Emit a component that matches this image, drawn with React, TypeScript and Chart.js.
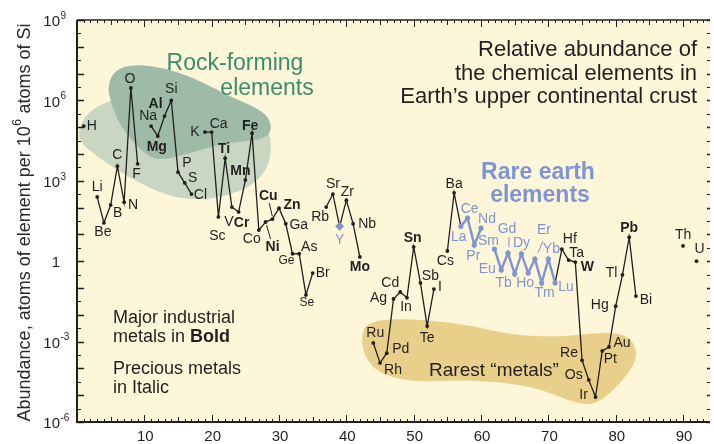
import React, { useEffect, useRef } from 'react';
import { Chart, registerables } from 'chart.js';
Chart.register(...registerables);

// ---------- DATA ----------
const elementZ = [1, 3, 4, 5, 6, 7, 8, 9, 11, 12, 13, 14, 15, 16, 17, 19, 20, 21, 22, 23, 24, 25, 26, 27, 28, 29, 30, 31, 32, 33, 34, 35, 37, 38, 39, 40, 41, 42, 44, 45, 46, 47, 48, 49, 50, 51, 52, 53, 55, 56, 57, 58, 59, 60, 62, 63, 64, 65, 66, 67, 68, 69, 70, 71, 72, 73, 74, 75, 76, 77, 78, 79, 80, 81, 82, 83, 90, 92];
const elementSymbols = ['H', 'Li', 'Be', 'B', 'C', 'N', 'O', 'F', 'Na', 'Mg', 'Al', 'Si', 'P', 'S', 'Cl', 'K', 'Ca', 'Sc', 'Ti', 'V', 'Cr', 'Mn', 'Fe', 'Co', 'Ni', 'Cu', 'Zn', 'Ga', 'Ge', 'As', 'Se', 'Br', 'Rb', 'Sr', 'Y', 'Zr', 'Nb', 'Mo', 'Ru', 'Rh', 'Pd', 'Ag', 'Cd', 'In', 'Sn', 'Sb', 'Te', 'I', 'Cs', 'Ba', 'La', 'Ce', 'Pr', 'Nd', 'Sm', 'Eu', 'Gd', 'Tb', 'Dy', 'Ho', 'Er', 'Tm', 'Yb', 'Lu', 'Hf', 'Ta', 'W', 'Re', 'Os', 'Ir', 'Pt', 'Au', 'Hg', 'Tl', 'Pb', 'Bi', 'Th', 'U'];
const abundance = [1.1e5, 250, 27, 125, 3500, 160, 2.9e6, 4300, 1.1e5, 4.7e4, 2.6e5, 1e6, 2100, 830, 320, 6.6e4, 6.6e4, 45, 7000, 105, 69, 1070, 6e4, 14.5, 29, 37, 95, 25, 1.9, 1.9, 0.055, 0.36, 105, 320, 20, 190, 25, 1.45, 8.9e-4, 1.6e-4, 3.7e-4, 0.039, 0.071, 0.043, 3.4, 0.155, 3.8e-3, 0.091, 2.4, 355, 20, 41, 4, 17, 2.8, 0.47, 2.0, 0.33, 1.9, 0.36, 1.2, 0.155, 1.2, 0.155, 2.8, 1.1, 0.93, 2.0e-4, 3.7e-5, 8.5e-6, 4.5e-4, 6.3e-4, 0.021, 0.31, 7.9, 0.05, 3.7, 1.0];

const rareEarthFirst = 57;
const rareEarthLast = 71;
const yttriumZ = 39;
const maxZ = 92;

const boldSymbols = ['Mg', 'Al', 'Ti', 'Cr', 'Mn', 'Fe', 'Ni', 'Cu', 'Zn', 'Sn', 'Mo', 'W', 'Pb'];
const smallSymbols = ['Ge', 'Se'];

const xTickLabels = [10, 20, 30, 40, 50, 60, 70, 80, 90];
const yTickValues = [1e9, 1e6, 1e3, 1, 1e-3, 1e-6];
const yTickBase = ['10', '10', '10', '1', '10', '10'];
const yTickExp = ['9', '6', '3', '', '-3', '-6'];

const titleLines = ['Relative abundance of', 'the chemical elements in', 'Earth\u2019s upper continental crust'];
const rockLines = ['Rock-forming', 'elements'];
const reeLines = ['Rare earth', 'elements'];
const noteLines = ['Major industrial', 'metals in ', 'Precious metals', 'in Italic'];
const rarestText = 'Rarest \u201cmetals\u201d';
const yTitle = ['Abundance, atoms of element per 10', '6', ' atoms of Si'];

// blob outlines in data units [atomic number, log10 abundance]
const rockOuter: [number, number][] = [[0.15, 4.9], [1.6, 5.57], [4.9, 6.01], [10.8, 6.39], [21.1, 6.01], [27.7, 5.34], [28.9, 4.52], [28.6, 3.59], [26.3, 2.84], [21.8, 2.4], [17.4, 2.28], [13.0, 2.47], [7.8, 3.1], [2.65, 3.96], [0.44, 4.45]];
const rockInner: [number, number][] = [[4.57, 6.57], [5.6, 7.13], [8.55, 7.36], [13.0, 7.21], [17.4, 6.84], [22.6, 6.16], [26.7, 5.72], [28.6, 5.34], [28.9, 4.82], [27.4, 4.52], [21.8, 4.41], [15.9, 3.96], [11.9, 3.74], [9.3, 4.15], [6.3, 5.08], [4.9, 6.01]];
const rarestBlob: [number, number][] = [[42.8, -2.31], [47.2, -2.12], [56.9, -2.31], [64.3, -2.75], [71.7, -2.83], [76.7, -2.68], [81.6, -2.68], [83.5, -3.43], [81.6, -4.32], [77.6, -5.29], [74.6, -5.37], [69.3, -4.81], [64.3, -4.54], [56.9, -4.43], [49.6, -4.51], [44.7, -4.17], [42.8, -3.57], [42.2, -2.94]];

// label offsets (pixels from the point)
const labelOffsets: Record<string, [number, number]> = {
  H: [8, 0], Li: [0, -10], Be: [-1, 9], B: [7, 8], C: [0, -11], N: [9, 3], O: [-1, -9], F: [-1, 10],
  Na: [-3, -10], Mg: [-1, 11], Al: [-9, -12], Si: [0, -11], P: [9, -9], S: [8, -5], Cl: [9, 1],
  K: [-10, 0], Ca: [7, -8], Sc: [-1, 19], Ti: [-1, -9], V: [-3, 15], Cr: [3, 11], Mn: [-5, -9], Fe: [-2, -7],
  Co: [-7, 9], Ni: [7, 25], Cu: [-4, -23], Zn: [13, -3], Ga: [13, 1], Ge: [-6, 7], As: [10, -7], Se: [1, 8],
  Br: [10, 0], Rb: [-6, 10], Sr: [0, -10], Y: [0, 14], Zr: [1, -8], Nb: [14, 0], Mo: [0, 10],
  Ru: [2, -10], Rh: [13, 7], Pd: [14, -4], Ag: [-15, -1], Cd: [-10, -9], In: [-1, 9], Sn: [-1, -9],
  Sb: [10, -7], Te: [0, 12], I: [6, -2], Cs: [-2, 10], Ba: [0, -9], La: [-2, 11], Ce: [2, -9], Pr: [-1, 11],
  Nd: [6, -9], Sm: [-6, -8], Eu: [-14, -1], Gd: [-1, -24], Tb: [-11, 9], Dy: [0, -11], Ho: [-3, 10],
  Er: [9, -29], Tm: [3, 10], Yb: [3, -10], Lu: [11, 4], Hf: [8, -10], Ta: [8, -7], W: [12, 5],
  Re: [-13, -7], Os: [-15, -5], Ir: [-12, -2], Pt: [8, 8], Au: [13, -4], Hg: [-16, -1], Tl: [-11, -2],
  Pb: [0, -9], Bi: [10, 4], Th: [0, -11], U: [3, -12],
};
const leaders: Record<string, [number, number, number, number]> = {
  Cu: [0, -3, -3, -16], Ni: [1, 3, 5, 17], Gd: [1, -6, 1, -16], Er: [3, -6, 8, -18],
};

// ---------- STYLE ----------
const FONT = '"Liberation Sans", Arial, Helvetica, sans-serif';
const INK = '#231f20';
const BLUE = '#7f95d1';
const BG = '#fdf6d9';

function smoothClosed(ctx: CanvasRenderingContext2D, pts: number[][]) {
  const n = pts.length;
  const mid = (a: number[], b: number[]) => [(a[0] + b[0]) / 2, (a[1] + b[1]) / 2];
  const m0 = mid(pts[n - 1], pts[0]);
  ctx.beginPath();
  ctx.moveTo(m0[0], m0[1]);
  for (let i = 0; i < n; i++) {
    const p = pts[i];
    const m = mid(p, pts[(i + 1) % n]);
    ctx.quadraticCurveTo(p[0], p[1], m[0], m[1]);
  }
  ctx.closePath();
}

export default function App() {
  const ref = useRef<HTMLCanvasElement>(null);
  useEffect(() => {
    const canvas = ref.current!;
    const valueByZ = new Map<number, number>();
    elementZ.forEach((z, i) => { valueByZ.set(z, abundance[i]); });

    const mainData: { x: number; y: number | null }[] = [];
    for (let z = 1; z <= maxZ; z++) {
      const v = valueByZ.get(z);
      const inner = z > rareEarthFirst && z < rareEarthLast;
      mainData.push({ x: z, y: v !== undefined && !inner ? v : null });
    }
    const reeData: { x: number; y: number | null }[] = [];
    for (let z = rareEarthFirst; z <= rareEarthLast; z++) {
      const v = valueByZ.get(z);
      reeData.push({ x: z, y: v !== undefined ? v : null });
    }

    const backgroundPlugin = {
      id: 'bgBlobs',
      beforeDatasetsDraw(chart: any) {
        const { ctx, chartArea: a, scales } = chart;
        const xs = scales.x, ys = scales.y;
        const toPx = (p: [number, number]) => [xs.getPixelForValue(p[0]), ys.getPixelForValue(Math.pow(10, p[1]))];
        ctx.save();
        ctx.fillStyle = BG;
        ctx.fillRect(a.left, a.top, a.right - a.left, a.bottom - a.top);
        ctx.beginPath();
        ctx.rect(a.left, a.top, a.right - a.left, a.bottom - a.top);
        ctx.clip();
        smoothClosed(ctx, rockOuter.map(toPx));
        ctx.fillStyle = '#c9d6c2';
        ctx.fill();
        smoothClosed(ctx, rockInner.map(toPx));
        ctx.fillStyle = '#9dbba7';
        ctx.fill();
        smoothClosed(ctx, rarestBlob.map(toPx));
        ctx.fillStyle = '#e9d08a';
        ctx.fill();

        // texts
        ctx.textBaseline = 'middle';
        ctx.fillStyle = INK;
        ctx.textAlign = 'right';
        ctx.font = `22px ${FONT}`;
        titleLines.forEach((t, i) => ctx.fillText(t, 697, 50 + i * 23.5));

        ctx.textAlign = 'center';
        ctx.fillStyle = '#3d8b6e';
        ctx.font = `23px ${FONT}`;
        ctx.fillText(rockLines[0], 235, 64);
        ctx.fillText(rockLines[1], 267, 89);

        ctx.fillStyle = BLUE;
        ctx.font = `bold 23px ${FONT}`;
        ctx.fillText(reeLines[0], 538, 173);
        ctx.fillText(reeLines[1], 540, 196);

        ctx.fillStyle = INK;
        ctx.font = `19px ${FONT}`;
        ctx.fillText(rarestText, 494, 371);

        ctx.textAlign = 'left';
        ctx.font = `18px ${FONT}`;
        ctx.fillText(noteLines[0], 113, 318);
        ctx.fillText(noteLines[1], 113, 337);
        const w = ctx.measureText(noteLines[1]).width;
        ctx.font = `bold 18px ${FONT}`;
        ctx.fillText('Bold', 113 + w, 337);
        ctx.font = `18px ${FONT}`;
        ctx.fillText(noteLines[2], 113, 369);
        ctx.fillText(noteLines[3], 113, 388);
        ctx.restore();
      },
      afterDatasetsDraw(chart: any) {
        const { ctx, chartArea: a, scales } = chart;
        const xs = scales.x, ys = scales.y;
        ctx.save();
        // element labels
        ctx.textAlign = 'center';
        ctx.textBaseline = 'middle';
        elementZ.forEach((z, i) => {
          const sym = elementSymbols[i];
          const px = xs.getPixelForValue(z);
          const py = ys.getPixelForValue(abundance[i]);
          const off = labelOffsets[sym] || [0, -10];
          const isRee = (z >= rareEarthFirst && z <= rareEarthLast) || z === yttriumZ;
          const bold = boldSymbols.includes(sym);
          const size = smallSymbols.includes(sym) ? 12 : 14;
          ctx.font = `${bold ? 'bold ' : ''}${size}px ${FONT}`;
          ctx.fillStyle = isRee ? BLUE : INK;
          ctx.fillText(sym, px + off[0], py + off[1]);
          const ld = leaders[sym];
          if (ld) {
            ctx.strokeStyle = isRee ? BLUE : INK;
            ctx.lineWidth = 1;
            ctx.beginPath();
            ctx.moveTo(px + ld[0], py + ld[1]);
            ctx.lineTo(px + ld[2], py + ld[3]);
            ctx.stroke();
          }
        });

        // frame
        ctx.strokeStyle = INK;
        ctx.lineWidth = 2;
        ctx.beginPath();
        ctx.moveTo(a.left, a.top);
        ctx.lineTo(a.left, a.bottom);
        ctx.lineTo(a.right, a.bottom);
        ctx.stroke();
        ctx.lineWidth = 1.5;
        ctx.beginPath();
        ctx.moveTo(a.left, a.top);
        ctx.lineTo(a.right, a.top);
        ctx.stroke();

        // x ticks (top and bottom, inward)
        ctx.lineWidth = 1;
        for (let z = 1; z < xs.max; z++) {
          const x = Math.round(xs.getPixelForValue(z)) + 0.5;
          const len = z % 10 === 0 ? 7 : z % 5 === 0 ? 5 : 3;
          ctx.beginPath();
          ctx.moveTo(x, a.bottom);
          ctx.lineTo(x, a.bottom - len);
          ctx.moveTo(x, a.top);
          ctx.lineTo(x, a.top + len);
          ctx.stroke();
        }
        // y ticks
        for (let e = -6; e <= 9; e += 0.5) {
          const y = Math.round(ys.getPixelForValue(Math.pow(10, e))) + 0.5;
          const len = Number.isInteger(e) ? 7 : 4;
          ctx.lineWidth = Number.isInteger(e) ? 1.5 : 1;
          ctx.beginPath();
          ctx.moveTo(a.left, y);
          ctx.lineTo(a.left + len, y);
          ctx.moveTo(a.right, y);
          ctx.lineTo(a.right - 3, y);
          ctx.stroke();
        }

        // x tick labels
        ctx.fillStyle = INK;
        ctx.textAlign = 'center';
        ctx.textBaseline = 'middle';
        ctx.font = `15px ${FONT}`;
        xTickLabels.forEach((v) => ctx.fillText(String(v), xs.getPixelForValue(v) + 1, 437));

        // y tick labels with superscripts
        yTickValues.forEach((v, i) => {
          const y = ys.getPixelForValue(v) + 2;
          ctx.font = `15px ${FONT}`;
          ctx.textAlign = 'right';
          ctx.fillText(yTickBase[i], 60, y);
          if (yTickExp[i]) {
            ctx.textAlign = 'left';
            ctx.font = `10px ${FONT}`;
            ctx.fillText(yTickExp[i].replace('-', '\u2011'), 60.5, y - 6);
          }
        });

        // y title
        ctx.translate(25, 223);
        ctx.rotate(-Math.PI / 2);
        ctx.fillStyle = '#2b2b2b';
        ctx.textAlign = 'left';
        ctx.font = `18px ${FONT}`;
        const w1 = ctx.measureText(yTitle[0]).width;
        const w3 = ctx.measureText(yTitle[2]).width;
        ctx.font = `12px ${FONT}`;
        const w2 = ctx.measureText(yTitle[1]).width;
        const start = -(w1 + w2 + w3) / 2;
        ctx.font = `18px ${FONT}`;
        ctx.fillText(yTitle[0], start, 0);
        ctx.font = `12px ${FONT}`;
        ctx.fillText(yTitle[1], start + w1 + 0.5, -7);
        ctx.font = `18px ${FONT}`;
        ctx.fillText(yTitle[2], start + w1 + w2 + 1, 0);
        ctx.restore();
      },
    };

    const chart = new Chart(canvas, {
      type: 'line',
      data: {
        datasets: [
          {
            data: reeData as any,
            borderColor: BLUE,
            borderWidth: 2.4,
            pointRadius: 2.6,
            pointBackgroundColor: BLUE,
            pointBorderWidth: 0,
            spanGaps: false,
            tension: 0,
          },
          {
            data: mainData as any,
            borderColor: INK,
            borderWidth: 1.3,
            spanGaps: false,
            tension: 0,
            pointBorderWidth: 0,
            pointRadius: (c: any) => {
              const z = c.dataIndex + 1;
              if (z === rareEarthFirst || z === rareEarthLast) return 0;
              if (z === yttriumZ) return 4.5;
              return 1.9;
            },
            pointStyle: (c: any) => (c.dataIndex + 1 === yttriumZ ? 'rectRot' : 'circle'),
            pointBackgroundColor: (c: any) => (c.dataIndex + 1 === yttriumZ ? BLUE : INK),
          },
        ],
      },
      options: {
        responsive: false,
        animation: false,
        events: [],
        layout: { padding: { top: 20, right: 0, bottom: 0, left: 0 } },
        plugins: { legend: { display: false }, tooltip: { enabled: false } },
        scales: {
          x: {
            type: 'linear', min: 0, max: 94,
            ticks: { display: false }, grid: { display: false }, border: { display: false },
            afterFit: (s: any) => { s.height = 22; },
          },
          y: {
            type: 'logarithmic', min: 1e-6, max: 1e9,
            ticks: { display: false }, grid: { display: false }, border: { display: false },
            afterFit: (s: any) => { s.width = 77; },
          },
        },
      },
      plugins: [backgroundPlugin],
    } as any);
    return () => chart.destroy();
  }, []);

  return (
    <div style={{ position: 'fixed', left: 0, top: 0, width: 714, height: 444, background: '#fff' }}>
      <canvas ref={ref} width={714} height={444} style={{ display: 'block' }} />
    </div>
  );
}
